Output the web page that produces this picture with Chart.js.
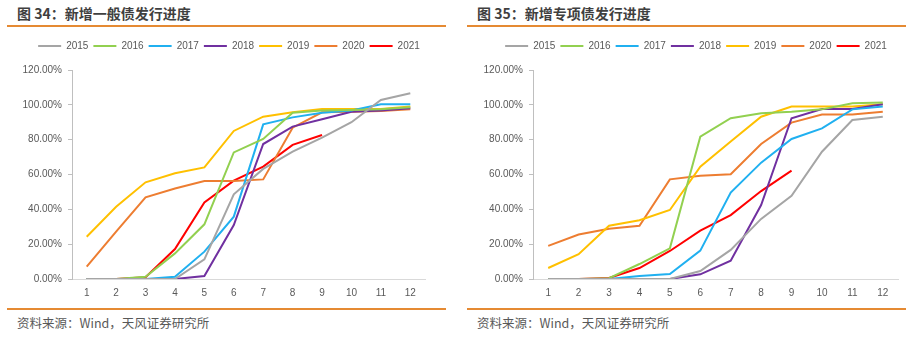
<!DOCTYPE html>
<html>
<head>
<meta charset="utf-8">
<script src="https://cdn.jsdelivr.net/npm/chart.js@4"></script>
<style>
  html, body { margin: 0; padding: 0; background: #fff; }
  body { width: 921px; height: 342px; position: relative; overflow: hidden; }
  .panel { position: absolute; top: 0; width: 460px; height: 342px; }
  .title {
    position: absolute; left: 17px; top: 4px;
    font: bold 14px/18px "Noto Sans CJK SC", sans-serif; color: #3f3f3f;
  }
  .rule { position: absolute; left: 7px; width: 439px; height: 2px; background: #e58a33; }
  .rule.top { top: 25px; }
  .rule.bottom { top: 308px; }
  .source {
    position: absolute; left: 17px; top: 315px;
    font: 12.5px/16px "Noto Sans CJK SC", sans-serif; color: #595959;
  }
  .plot { position: absolute; top: 34px; height: 270px; }
</style>
</head>
<body>
<div class="panel" style="left:0">
  <div class="title">图 34：新增一般债发行进度</div>
  <div class="rule top"></div>
  <div class="plot" style="left:0;width:450px"><canvas id="genChart"></canvas></div>
  <div class="rule bottom"></div>
  <div class="source">资料来源：Wind，天风证券研究所</div>
</div>
<div class="panel" style="left:460px">
  <div class="title">图 35：新增专项债发行进度</div>
  <div class="rule top"></div>
  <div class="plot" style="left:0;width:450px"><canvas id="spChart"></canvas></div>
  <div class="rule bottom"></div>
  <div class="source">资料来源：Wind，天风证券研究所</div>
</div>
<script>
// 月份与年份
const months = ['1', '2', '3', '4', '5', '6', '7', '8', '9', '10', '11', '12'];
const years = ['2015', '2016', '2017', '2018', '2019', '2020', '2021'];
const yearColors = ['#a5a5a5', '#92d050', '#20b0f0', '#7030a0', '#ffc000', '#ed7d31', '#ff0000'];

// 新增一般债累计发行进度 (%)
const gen2015 = [0, 0, 0, 0, 11.3, 48.6, 63.2, 73.1, 81.2, 90.0, 102.8, 106.6];
const gen2016 = [0, 0, 1.3, 14.7, 31.4, 72.7, 80.4, 95.5, 96.7, 97.0, 97.4, 98.6];
const gen2017 = [0, 0, 0, 1.3, 15.7, 35.8, 88.8, 92.8, 95.5, 96.7, 100.3, 100.3];
const gen2018 = [0, 0, 0, 0, 1.7, 31.0, 77.5, 87.5, 91.7, 96.0, 96.7, 98.0];
const gen2019 = [24.3, 41.5, 55.5, 60.7, 64.1, 85.0, 93.2, 95.7, 97.6, 97.6, 97.6, 99.0];
const gen2020 = [7.1, 27.2, 46.9, 52.0, 56.3, 56.3, 57.2, 86.9, 95.7, 96.0, 96.5, 97.4];
const gen2021 = [0, 0, 1.0, 17.2, 44.0, 56.5, 64.5, 77.0, 82.7];

// 新增专项债累计发行进度 (%)
const sp2015 = [0, 0, 0, 0, 0, 4.6, 16.7, 34.5, 47.7, 73.1, 91.3, 93.2];
const sp2016 = [0, 0, 0.5, 8.6, 17.6, 81.7, 92.3, 95.1, 96.0, 97.4, 100.9, 101.3];
const sp2017 = [0, 0, 0, 1.7, 2.9, 16.3, 49.6, 66.8, 80.4, 86.5, 97.4, 99.0];
const sp2018 = [0, 0, 0, 0, 0, 2.7, 10.5, 42.5, 92.3, 97.6, 97.6, 100.3];
const sp2019 = [6.3, 14.2, 30.6, 33.7, 39.6, 64.5, 78.9, 93.2, 99.0, 99.0, 99.0, 100.3];
const sp2020 = [19.0, 25.5, 28.9, 30.6, 57.2, 59.3, 60.1, 77.5, 89.8, 94.5, 94.5, 96.0];
const sp2021 = [0, 0, 0.6, 6.3, 16.1, 27.8, 36.7, 50.5, 62.2];

// y 轴刻度
const yMax = 120;
const yStep = 20;

const genSeries = [gen2015, gen2016, gen2017, gen2018, gen2019, gen2020, gen2021];
const spSeries = [sp2015, sp2016, sp2017, sp2018, sp2019, sp2020, sp2021];

const TEXT = '#595959';
const FONT = { family: '"Liberation Sans", Arial, sans-serif', size: 10 };

// 固定图例高度并调整图例水平位置
const legendPlacer = {
  id: 'legendPlacer',
  beforeInit(chart, args, opts) {
    const fit = chart.legend.fit;
    chart.legend.fit = function() {
      fit.call(this);
      this.height = opts.height;
    };
  },
  afterLayout(chart, args, opts) {
    const lg = chart.legend;
    lg.left = opts.center - 230;
    lg.right = opts.center + 230;
  }
};

function drawChart(id, series, axisWidth, rightPad, legendCenter) {
  const datasets = series.map((vals, i) => ({
    label: years[i],
    data: vals,
    borderColor: yearColors[i],
    backgroundColor: yearColors[i],
    borderWidth: 2,
    pointRadius: 0,
    tension: 0,
    fill: false
  }));

  return new Chart(document.getElementById(id), {
    type: 'line',
    data: { labels: months, datasets: datasets },
    plugins: [legendPlacer],
    options: {
      responsive: true,
      maintainAspectRatio: false,
      animation: false,
      layout: { padding: { top: 2, right: rightPad, left: 0, bottom: 0 } },
      scales: {
        x: {
          offset: true,
          grid: { display: false, drawTicks: false },
          border: { display: true, color: '#d9d9d9', width: 1 },
          ticks: { color: TEXT, font: FONT, padding: 8, maxRotation: 0 },
          afterFit: s => { s.height = 25; }
        },
        y: {
          min: 0,
          max: yMax,
          grid: { drawOnChartArea: false, drawTicks: true, tickLength: 4, color: '#bfbfbf' },
          border: { display: true, color: '#bfbfbf', width: 1 },
          ticks: {
            stepSize: yStep,
            color: TEXT,
            font: FONT,
            padding: 6,
            callback: v => v.toFixed(2) + '%'
          },
          afterFit: s => { s.width = axisWidth; }
        }
      },
      plugins: {
        legendPlacer: { height: 34, center: legendCenter },
        legend: {
          position: 'top',
          labels: {
            color: TEXT,
            font: FONT,
            usePointStyle: true,
            pointStyle: 'line',
            pointStyleWidth: 23,
            padding: 5
          }
        },
        tooltip: { enabled: false }
      }
    }
  });
}

drawChart('genChart', genSeries, 72, 25, 229);
drawChart('spChart', spSeries, 73, 12, 236);
</script>
</body>
</html>
